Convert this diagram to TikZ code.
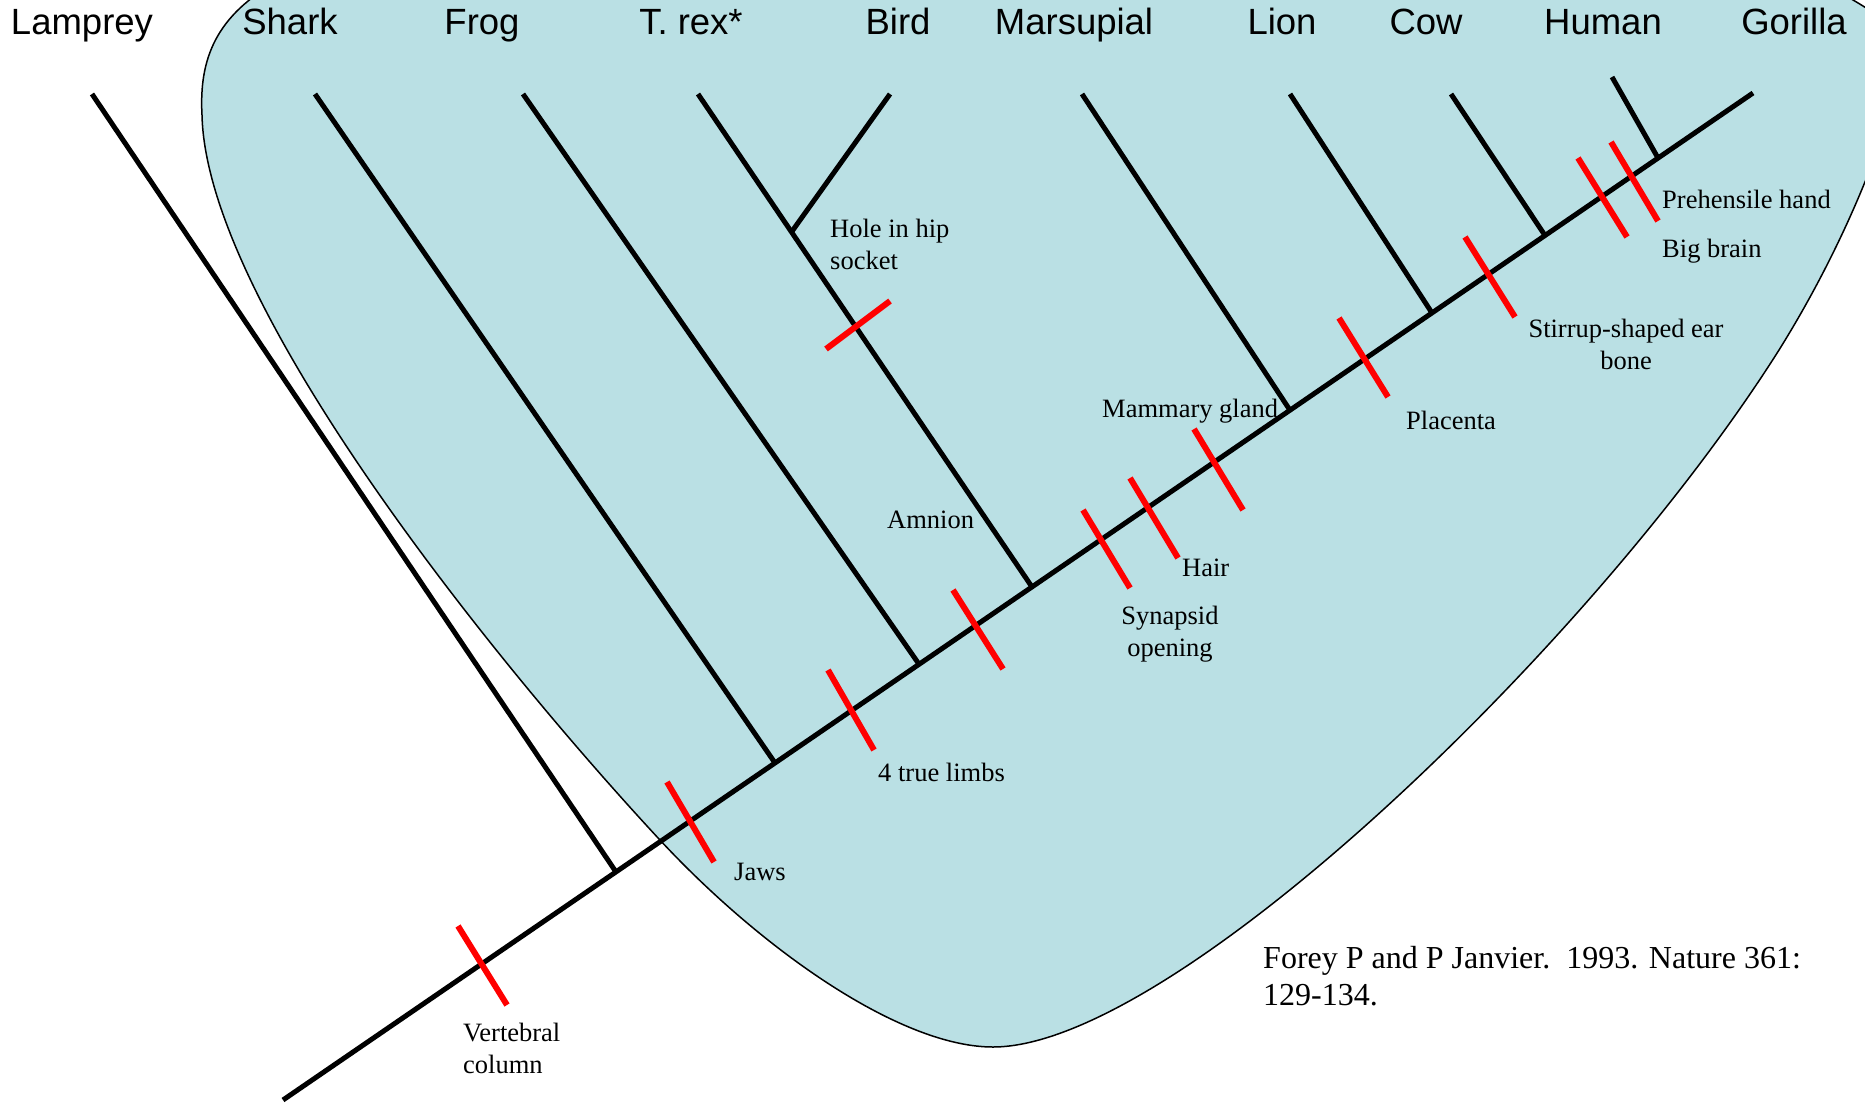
\documentclass[tikz,border=0pt]{standalone}
\usepackage{fontspec}
\setmainfont{Liberation Serif}
\newfontfamily\taxonfont{Liberation Sans}
\usetikzlibrary{calc}
\definecolor{cladefill}{HTML}{BAE0E4}
\definecolor{traitred}{HTML}{FF0000}

\begin{document}
\begin{tikzpicture}[x=1pt, y=-1pt,
    taxon/.style={anchor=base, inner sep=0pt, font=\taxonfont\fontsize{36.5}{40}\selectfont},
    trait/.style={anchor=base west, inner sep=0pt, align=left, font=\fontsize{26.5}{32}\selectfont},
    citation/.style={anchor=base west, inner sep=0pt, align=left, font=\fontsize{32}{37}\selectfont},
    branch/.style={line width=5pt, color=black},
    traittick/.style={line width=6pt, color=traitred},
    blob/.style={fill=cladefill, draw=black, line width=1.5pt}
]
\useasboundingbox (0,0) rectangle (1865,1105);

% Shaded clade (runs off the top and right edge)
\begin{scope}
\clip (0,0) rectangle (1865,1105);
\filldraw[blob] (280,-20) .. controls (215,15) and (199,60) .. (202,115)
    .. controls (206,300) and (482,648) .. (659,839)
    .. controls (761,949) and (900,1047) .. (993,1047)
    .. controls (1173,1047) and (1592,646) .. (1779,350)
    .. controls (1832,265) and (1875,170) .. (1900,80)
    .. controls (1920,40) and (1880,16) .. (1853,0)
    .. controls (1826,-16) .. (1780,-40) -- (320,-40) -- cycle;
\end{scope}

% Trunk
\coordinate (root) at (283,1100);
\coordinate (gorilla) at (1753,93);
\draw[branch] (root) -- (gorilla);

% Branch tips
\coordinate (lampreytop) at (92,94);
\coordinate (sharktop) at (315,94);
\coordinate (frogtop) at (523,94);
\coordinate (trextop) at (698,94);
\coordinate (birdtop) at (890,94);
\coordinate (marsupialtop) at (1082,94);
\coordinate (liontop) at (1290,94);
\coordinate (cowtop) at (1451,94);
\coordinate (humantop) at (1612,77);

% Junctions on the trunk
\coordinate (lampreyjn) at ($(root)!0.2265!(gorilla)$);
\coordinate (sharkjn) at ($(root)!0.3347!(gorilla)$);
\coordinate (frogjn) at ($(root)!0.4327!(gorilla)$);
\coordinate (trexjn) at ($(root)!0.5095!(gorilla)$);
\coordinate (marsupialjn) at ($(root)!0.685!(gorilla)$);
\coordinate (lionjn) at ($(root)!0.7816!(gorilla)$);
\coordinate (cowjn) at ($(root)!0.8585!(gorilla)$);
\coordinate (humanjn) at ($(root)!0.9354!(gorilla)$);
\coordinate (birdjn) at ($(trextop)!0.28!(trexjn)$);

\draw[branch] (lampreytop) -- (lampreyjn);
\draw[branch] (sharktop) -- (sharkjn);
\draw[branch] (frogtop) -- (frogjn);
\draw[branch] (trextop) -- (trexjn);
\draw[branch] (birdtop) -- (birdjn);
\draw[branch] (marsupialtop) -- (marsupialjn);
\draw[branch] (liontop) -- (lionjn);
\draw[branch] (cowtop) -- (cowjn);
\draw[branch] (humantop) -- (humanjn);

% Character marks
\draw[traittick] (458,926) -- (507,1005);
\draw[traittick] (667,782) -- (714,862);
\draw[traittick] (828,670) -- (874,750);
\draw[traittick] (953,590) -- (1003,669);
\draw[traittick] (1083,510) -- (1130,588);
\draw[traittick] (1130,478) -- (1178,558);
\draw[traittick] (1194,429) -- (1243,510);
\draw[traittick] (1339,318) -- (1388,397);
\draw[traittick] (1465,237) -- (1515,317);
\draw[traittick] (1578,158) -- (1627,237);
\draw[traittick] (1611,142) -- (1658,221);
\draw[traittick] (826,349) -- (890,301);

% Taxa
\node[taxon] (lamprey) at (82,35) {Lamprey};
\node[taxon] (shark) at (290,35) {Shark};
\node[taxon] (frog) at (482,35) {Frog};
\node[taxon] (trex) at (691,35) {T. rex*};
\node[taxon] (bird) at (898,35) {Bird};
\node[taxon] (marsupial) at (1074,35) {Marsupial};
\node[taxon] (lion) at (1282,35) {Lion};
\node[taxon] (cow) at (1426,35) {Cow};
\node[taxon] (human) at (1603,35) {Human};
\node[taxon] (gorillalbl) at (1794,35) {Gorilla};

% Characters (base = last line)
\node[trait] (vertebral) at (463,1073) {Vertebral\\column};
\node[trait] (jaws) at (734,880) {Jaws};
\node[trait] (limbs) at (878,781) {4 true limbs};
\node[trait] (hip) at (830,269) {Hole in hip\\socket};
\node[trait] (amnion) at (887,528) {Amnion};
\node[trait] (mammary) at (1102,417) {Mammary gland};
\node[trait] (hair) at (1182,576) {Hair};
\node[trait, anchor=base, align=center] (synapsid) at (1170,656) {Synapsid\\opening};
\node[trait] (placenta) at (1406,429) {Placenta};
\node[trait, anchor=base, align=center] (stirrup) at (1626,369) {Stirrup-shaped ear\\bone};
\node[trait] (prehensile) at (1662,208) {Prehensile hand};
\node[trait] (bigbrain) at (1662,257) {Big brain};

% Reference
\node[citation] (forey) at (1263,1005) {Forey P and P Janvier.\ \ 1993. Nature 361:\\129-134.};

\end{tikzpicture}
\end{document}
